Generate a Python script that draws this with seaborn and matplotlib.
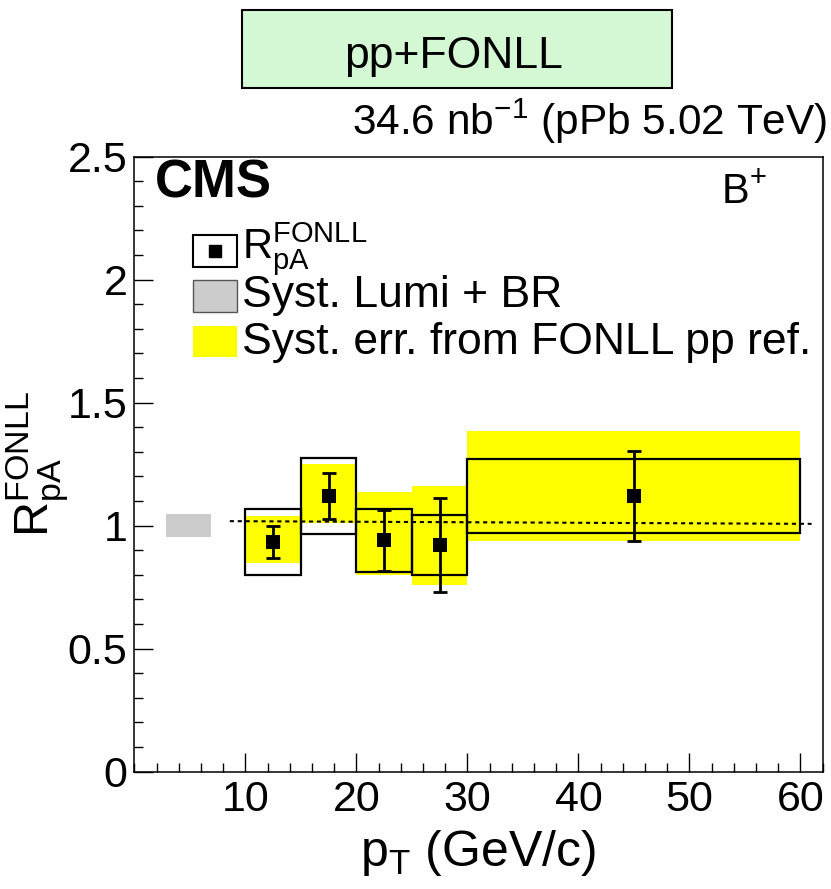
import matplotlib
matplotlib.use("Agg")
import numpy as np
import pandas as pd
import matplotlib.pyplot as plt
from matplotlib.patches import Rectangle
from matplotlib.lines import Line2D
from matplotlib.ticker import FixedLocator, MultipleLocator
import seaborn as sns

# pT binning (GeV/c)
pt_low = [10, 15, 20, 25, 30]
pt_high = [15, 20, 25, 30, 60]
pt_center = [12.5, 17.5, 22.5, 27.5, 45.0]

# B+ nuclear modification factor w.r.t. the FONLL-based pp reference
rpa = [0.933, 1.120, 0.940, 0.921, 1.120]
stat_dn = [0.066, 0.092, 0.123, 0.190, 0.181]
stat_up = [0.067, 0.094, 0.122, 0.190, 0.183]
syst = [0.134, 0.155, 0.129, 0.123, 0.151]
fonll_dn = [0.085, 0.108, 0.140, 0.161, 0.181]
fonll_up = [0.106, 0.132, 0.197, 0.240, 0.265]

# global uncertainty (luminosity + branching ratio), drawn at unity
glob_unc = 0.048
glob_pt = [2.9, 6.9]

# reference line around unity
ref_pt = [8.6, 61.0]
ref_val = [1.018, 1.007]

x_major = [10, 20, 30, 40, 50, 60]
x_tick_labels = ["10", "20", "30", "40", "50", "60"]
y_major = [0, 0.5, 1.0, 1.5, 2.0, 2.5]
y_tick_labels = ["0", "0.5", "1", "1.5", "2", "2.5"]

sns.set_theme(style="ticks")
plt.rcParams["font.family"] = ["Liberation Sans", "DejaVu Sans"]
plt.rcParams["mathtext.fontset"] = "custom"
plt.rcParams["mathtext.rm"] = "Liberation Sans"
plt.rcParams["mathtext.it"] = "Liberation Sans:italic"
plt.rcParams["mathtext.bf"] = "Liberation Sans:bold"
for key in ["text.color", "axes.labelcolor", "xtick.color", "ytick.color",
            "axes.edgecolor"]:
    plt.rcParams[key] = "black"

W, H = 831, 889
fig = plt.figure(figsize=(W / 100, H / 100), dpi=100)
fig.patch.set_facecolor("white")


def fx(px):
    return px / W


def fy(py):
    return 1 - py / H


ax_l, ax_r, ax_t, ax_b = 134.3, 822.7, 156.7, 771.5
ax = fig.add_axes([fx(ax_l), fy(ax_b), (ax_r - ax_l) / W, (ax_b - ax_t) / H])
ax.set_facecolor("white")

lo = np.array(pt_low, dtype=float)
hi = np.array(pt_high, dtype=float)
val = np.array(rpa)
f_dn = np.array(fonll_dn)
f_up = np.array(fonll_up)
sy = np.array(syst)

# FONLL pp reference uncertainty bands
ax.bar(lo, f_up + f_dn, bottom=val - f_dn, width=hi - lo, align="edge",
       color="#ffff00", linewidth=0, zorder=1)
# global normalisation uncertainty
ax.bar(glob_pt[0], 2 * glob_unc, bottom=1 - glob_unc, width=glob_pt[1] - glob_pt[0],
       align="edge", color="#cccccc", linewidth=0, zorder=1)
# systematic uncertainty boxes
ax.bar(lo, 2 * sy, bottom=val - sy, width=hi - lo, align="edge",
       fill=False, edgecolor="black", linewidth=1.6, zorder=2)

ax.plot(ref_pt, ref_val, color="black", linewidth=1.5,
        linestyle=(0, (2.0, 1.8)), zorder=3)

ax.errorbar(pt_center, rpa, yerr=[stat_dn, stat_up], fmt="none", ecolor="black",
            elinewidth=2.0, capsize=4.8, capthick=2.0, zorder=4)

df = pd.DataFrame({"pt": pt_center, "rpa": rpa})
sns.scatterplot(data=df, x="pt", y="rpa", marker="s", s=92, color="black",
                linewidth=0, zorder=5, ax=ax, legend=False)

ax.set_xlim(0, 62)
ax.set_ylim(0, 2.5)
ax.xaxis.set_major_locator(FixedLocator(x_major))
ax.xaxis.set_minor_locator(MultipleLocator(2))
ax.set_xticklabels(x_tick_labels)
ax.yaxis.set_major_locator(FixedLocator(y_major))
ax.yaxis.set_minor_locator(MultipleLocator(0.1))
ax.set_yticklabels(y_tick_labels)
ax.tick_params(axis="both", which="both", direction="in", top=False, right=False,
               color="black", labelcolor="black", width=1.0)
ax.tick_params(axis="both", which="major", length=13.7, labelsize=31)
ax.tick_params(axis="both", which="minor", length=6.5)
ax.tick_params(axis="x", which="major", pad=6)
ax.tick_params(axis="y", which="major", pad=5)
for s in ax.spines.values():
    s.set_linewidth(1.1)
    s.set_color("black")

ax.set_xlabel(r"$\mathregular{p_{T}}$ (GeV/c)", fontsize=36, va="baseline",
              ha="center", color="black")
ax.xaxis.set_label_coords(fx(477.5), fy(866), transform=fig.transFigure)
ax.set_ylabel(r"$\mathregular{R_{pA}^{FONLL}}$", fontsize=35, va="center",
              ha="center", color="black")
ax.yaxis.set_label_coords(fx(37), fy(464), transform=fig.transFigure)

# header box
fig.add_artist(Rectangle((fx(241.7), fy(88.3)), (671.7 - 241.7) / W, (88.3 - 10) / H,
                         transform=fig.transFigure, facecolor="#d4f8d4",
                         edgecolor="black", linewidth=1.5))
fig.text(fx(454), fy(68), "pp+FONLL", ha="center", va="baseline", fontsize=32)
fig.text(fx(827), fy(135), r"34.6 nb$^{\mathregular{-1}}$ (pPb 5.02 TeV)",
         ha="right", va="baseline", fontsize=30.5)

fig.text(fx(155), fy(198), "CMS", ha="left", va="baseline", fontsize=38,
         fontweight="bold")
fig.text(fx(721), fy(203), r"B$^{\mathregular{+}}$", ha="left", va="baseline",
         fontsize=30)

# legend
key_x0, key_x1 = 193.3, 237.3
fig.add_artist(Rectangle((fx(key_x0), fy(266.7)), (key_x1 - key_x0) / W, 31.7 / H,
                         transform=fig.transFigure, facecolor="white",
                         edgecolor="black", linewidth=1.5))
fig.add_artist(Line2D([fx(215.3)], [fy(251)], marker="s", markersize=9, color="black",
                      linestyle="none", transform=fig.transFigure))
fig.add_artist(Rectangle((fx(key_x0), fy(311.7)), (key_x1 - key_x0) / W, 31.7 / H,
                         transform=fig.transFigure, facecolor="#cccccc",
                         edgecolor="#555555", linewidth=1.0))
fig.add_artist(Rectangle((fx(key_x0), fy(357.3)), (key_x1 - key_x0) / W, 31.6 / H,
                         transform=fig.transFigure, facecolor="#ffff00",
                         linewidth=0))
leg_size = 32
fig.text(fx(242), fy(258), r"$\mathregular{R_{pA}^{FONLL}}$", va="baseline",
         fontsize=30)
fig.text(fx(242), fy(307), "Syst. Lumi + BR", va="baseline", fontsize=leg_size)
fig.text(fx(242), fy(354), "Syst. err. from FONLL pp ref.", va="baseline",
         fontsize=leg_size)

fig.savefig("out.png", dpi=100, facecolor="white")
